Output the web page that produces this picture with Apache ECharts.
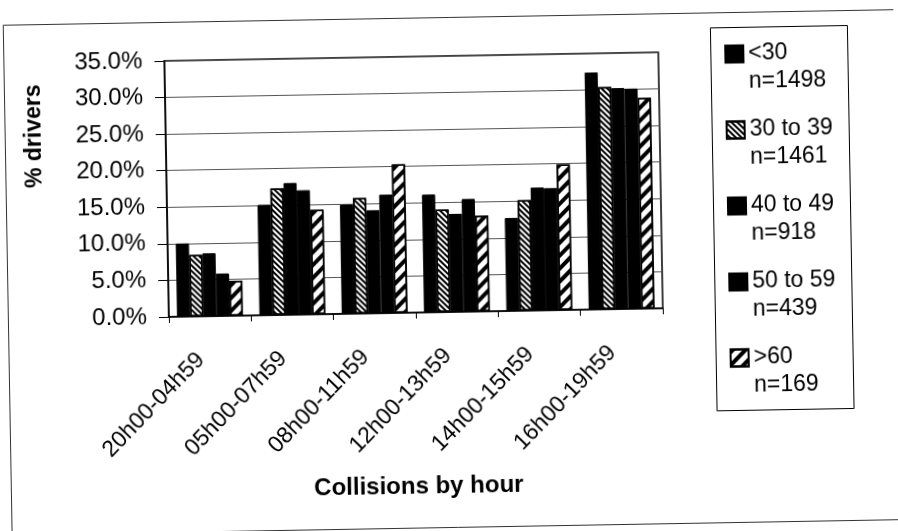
<!DOCTYPE html>
<html>
<head>
<meta charset="utf-8">
<title>Collisions by hour</title>
<script src="https://cdn.jsdelivr.net/npm/echarts@6/dist/echarts.min.js"></script>
<style>
  html, body { margin: 0; padding: 0; background: #fff; overflow: hidden; }
  #chart { width: 898px; height: 531px; transform: rotate(-1deg); }
</style>
</head>
<body>
<div id="chart"></div>
<script>
// hour bands (x axis)
const hourBands = ['20h00-04h59', '05h00-07h59', '08h00-11h59', '12h00-13h59', '14h00-15h59', '16h00-19h59']

// age groups and their sample sizes
const ageGroups = ['<30', '30 to 39', '40 to 49', '50 to 59', '>60']
const sampleSizes = [1498, 1461, 918, 439, 169]

// % of drivers per hour band
const under30 = [10.0, 15.1, 14.9, 16.1, 12.7, 32.4]
const age30to39 = [8.4, 17.3, 15.8, 14.0, 15.1, 30.4]
const age40to49 = [8.6, 18.0, 14.1, 13.4, 16.8, 30.2]
const age50to59 = [5.8, 17.0, 16.2, 15.4, 16.7, 30.1]
const over60 = [4.8, 14.3, 20.3, 13.1, 19.9, 28.8]

const yTicks = [0, 5, 10, 15, 20, 25, 30, 35]

const FONT = "'Liberation Sans', Arial, sans-serif"

// fill styles: solid black, fine back-slash hatch, wide forward-slash hatch
const solid = { color: '#000', borderColor: '#000', borderWidth: 1 }
const fineHatch = {
  color: '#fff', borderColor: '#000', borderWidth: 1.5,
  decal: { symbol: 'rect', symbolSize: 1, dashArrayX: [1, 0], dashArrayY: [1.2, 2.0], rotation: Math.PI / 4, color: '#000' }
}
const wideHatch = {
  color: '#fff', borderColor: '#000', borderWidth: 1.5,
  decal: { symbol: 'rect', symbolSize: 1, dashArrayX: [1, 0], dashArrayY: [3.5, 4.5], rotation: -Math.PI / 4, color: '#000' }
}

const seriesValues = [under30, age30to39, age40to49, age50to59, over60]
const seriesFills = [solid, fineHatch, solid, solid, wideHatch]

const chart = echarts.init(document.getElementById('chart'), null, { renderer: 'canvas' })

const option = {
  animation: false,
  backgroundColor: '#fff',
  textStyle: { fontFamily: FONT, color: '#000' },
  grid: {
    left: 168, right: 236, top: 56, bottom: 219,
    show: true, borderColor: '#000', borderWidth: 1.5
  },
  legend: {
    orient: 'vertical',
    left: 728,
    top: 17,
    padding: 0,
    itemGap: -8,
    itemWidth: 18,
    itemHeight: 17,
    selectedMode: false,
    icon: 'rect',
    data: ageGroups,
    // leading blank line keeps the icon level with the first line of text
    formatter: (name) => '\n' + name + '\nn=' + sampleSizes[ageGroups.indexOf(name)],
    textStyle: { fontFamily: FONT, fontSize: 23, color: '#000', lineHeight: 28 }
  },
  xAxis: {
    type: 'category',
    data: hourBands,
    name: 'Collisions by hour',
    nameLocation: 'middle',
    nameGap: 162,
    nameTextStyle: { fontFamily: FONT, fontSize: 24, fontWeight: 'bold', color: '#000' },
    axisLine: { lineStyle: { color: '#000', width: 1.5 } },
    axisTick: { show: true, length: 6, lineStyle: { color: '#000' } },
    axisLabel: { interval: 0, rotate: 45, margin: 30, padding: [0, 14, 0, 0], fontFamily: FONT, fontSize: 23, color: '#000' }
  },
  yAxis: {
    type: 'value',
    min: yTicks[0],
    max: yTicks[yTicks.length - 1],
    interval: 5,
    name: '% drivers',
    nameLocation: 'middle',
    nameRotate: 90,
    nameGap: 120,
    nameTextStyle: { fontFamily: FONT, fontSize: 23, fontWeight: 'bold', color: '#000', padding: [0, 0, 0, 110] },
    axisLine: { show: true, lineStyle: { color: '#000', width: 1.5 } },
    axisTick: { show: true, length: 10, lineStyle: { color: '#000' } },
    axisLabel: { margin: 22, fontFamily: FONT, fontSize: 24, color: '#000', formatter: (v) => v.toFixed(1) + '%' },
    splitLine: { lineStyle: { color: '#555', width: 1 } }
  },
  series: ageGroups.map((name, i) => ({
    name: name,
    type: 'bar',
    data: seriesValues[i],
    barGap: '0%',
    barCategoryGap: '20%',
    itemStyle: seriesFills[i]
  })),
  graphic: [
    // outer chart frame
    { type: 'rect', left: 5, top: 15, shape: { width: 905, height: 510 }, style: { fill: 'none', stroke: '#333', lineWidth: 1 }, silent: true },
    // legend frame
    { type: 'rect', left: 712, top: 30, shape: { width: 137, height: 383 }, style: { fill: 'none', stroke: '#000', lineWidth: 1 }, silent: true }
  ]
}

chart.setOption(option)

window.addEventListener('resize', () => chart.resize())
</script>
</body>
</html>
